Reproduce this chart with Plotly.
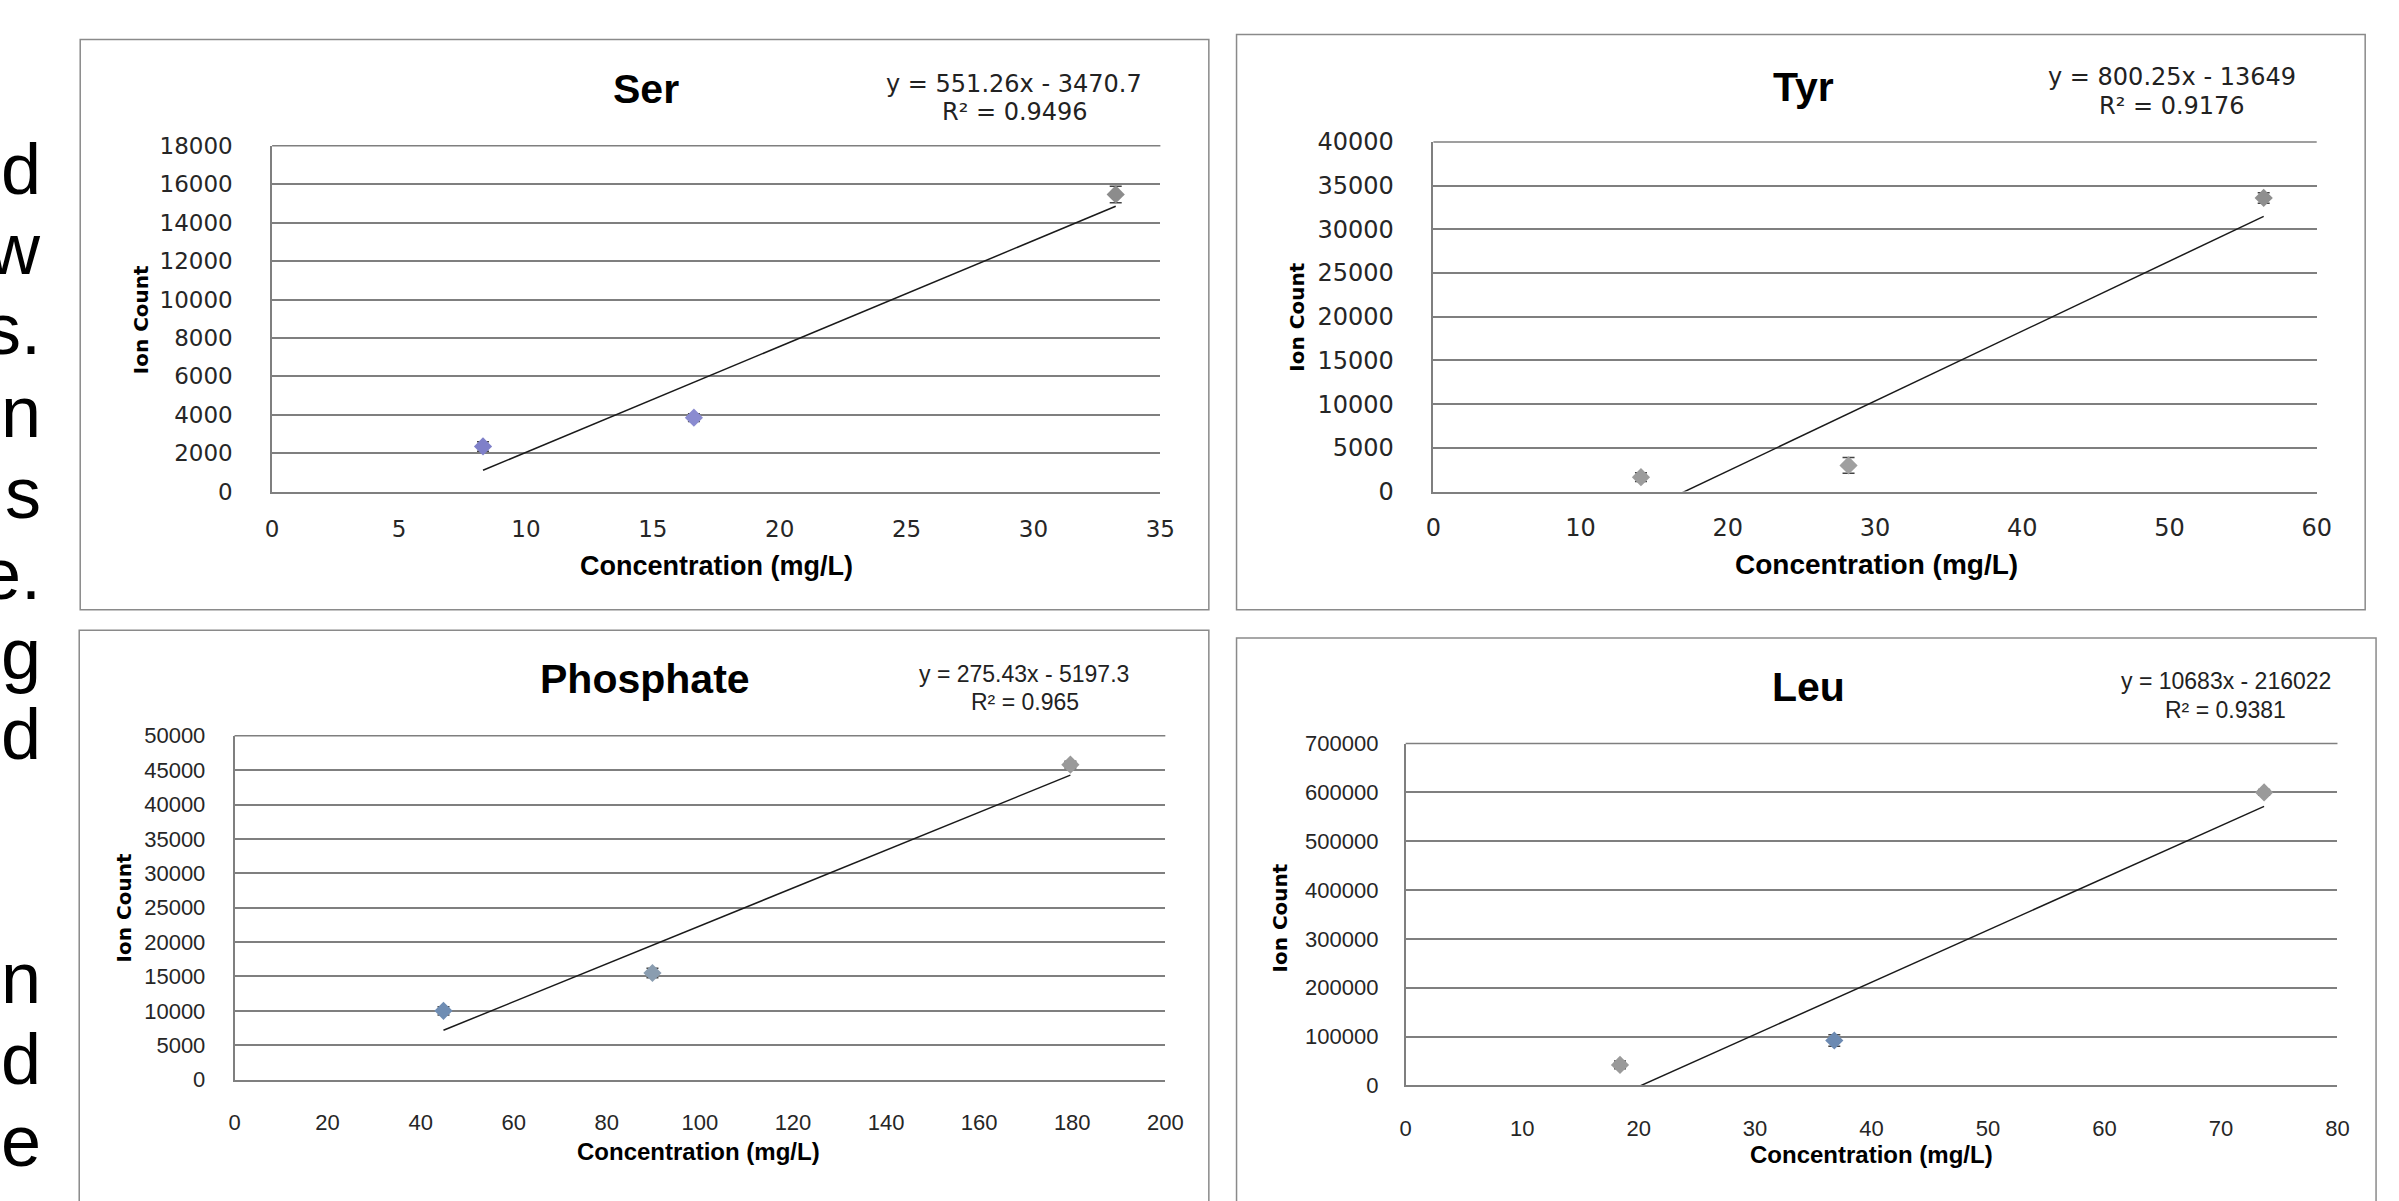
import plotly.graph_objects as go

W, H = 2399, 1201

# ---------------- data ----------------
ser_x = [8.31, 16.62, 33.24]
ser_y = [2350, 3850, 15470]
ser_err = [250, 200, 430]

tyr_x = [14.1, 28.2, 56.4]
tyr_y = [1650, 3000, 33600]
tyr_err = [500, 900, 600]

pho_x = [44.9, 89.8, 179.6]
pho_y = [10000, 15500, 45800]
pho_err = [600, 700, 500]

leu_x = [18.4, 36.8, 73.7]
leu_y = [42000, 92000, 600000]
leu_err = [8000, 12000, 6000]

titles = ["Ser", "Tyr", "Phosphate", "Leu"]
slopes = [551.26, 800.25, 275.43, 10683]
intercepts = [-3470.7, -13649, -5197.3, -216022]
eq_texts = ["y = 551.26x - 3470.7", "y = 800.25x - 13649",
            "y = 275.43x - 5197.3", "y = 10683x - 216022"]
r2_texts = ["0.9496", "0.9176", "0.965", "0.9381"]
x_max = [35, 60, 200, 80]
x_step = [5, 10, 20, 10]
y_max = [18000, 40000, 50000, 700000]
y_step = [2000, 5000, 5000, 100000]
x_title = "Concentration (mg/L)"
y_title = "Ion Count"

# cropped slide text at the left edge
side_text = ["d", "w", "s.", "n", "s", "e.", "g", "d", "n", "d", "e"]
side_base = [190, 272, 354, 438, 521, 604, 686, 768, 1018, 1101, 1185]

series = [(ser_x, ser_y, ser_err), (tyr_x, tyr_y, tyr_err),
          (pho_x, pho_y, pho_err), (leu_x, leu_y, leu_err)]

# ---------------- layout / styling ----------------
panels = [
    dict(box=(73, 26, 1214, 610), plot=(267, 135, 1165, 489), title=(645, 77),
         eq=(1017, 72), r2=(1018, 100), ylab=(134, 313), xlab=(716, 565),
         tickfont="DejaVu Sans", tickfs=23, eqfont="DejaVu Sans", eqfs=24,
         xtfs=27, ystand=33, xstand=16,
         colors=["#7f80c9", "#8a8bd0", "#8c8c8c"]),
    dict(box=(1242, 21, 2383, 610), plot=(1441, 131, 2334, 489), title=(1815, 75),
         eq=(2188, 64), r2=(2188, 94), ylab=(1303, 310), xlab=(1889, 564),
         tickfont="DejaVu Sans", tickfs=24, eqfont="DejaVu Sans", eqfs=24,
         xtfs=28, ystand=33, xstand=14,
         colors=["#9c9c9c", "#a0a0a0", "#8f8f8f"]),
    dict(box=(72, 631, 1214, 1230), plot=(229, 739, 1170, 1091), title=(644, 681),
         eq=(1027, 676), r2=(1028, 704), ylab=(117, 915), xlab=(698, 1165),
         tickfont="Liberation Sans", tickfs=22, eqfont="Liberation Sans", eqfs=23,
         xtfs=24, ystand=23, xstand=22,
         colors=["#6f8db3", "#8a9db0", "#9a9a9a"]),
    dict(box=(1242, 639, 2394, 1230), plot=(1413, 747, 2355, 1097), title=(1820, 689),
         eq=(2242, 683), r2=(2242, 713), ylab=(1286, 926), xlab=(1884, 1168),
         tickfont="Liberation Sans", tickfs=22, eqfont="Liberation Sans", eqfs=23,
         xtfs=24, ystand=21, xstand=22,
         colors=["#9a9a9a", "#6c8ab2", "#9a9a9a"]),
]

GRID = "#7f7f7f"
TICKC = "#262626"


def fx(px):
    return px / W


def fy(py):
    return 1 - py / H


fig = go.Figure()
shapes = []
annotations = []
layout_axes = {}


def ann(text, pos, family, size, angle=0, color="#000000"):
    annotations.append(dict(
        text=text, x=fx(pos[0]), y=fy(pos[1]), xref="paper", yref="paper",
        xanchor="center", yanchor="middle", showarrow=False,
        textangle=angle, font=dict(family=family, size=size, color=color)))


for i, (p, (xs, ys, es)) in enumerate(zip(panels, series)):
    n = i + 1
    xa = "x" if n == 1 else f"x{n}"
    ya = "y" if n == 1 else f"y{n}"
    xkey = "xaxis" if n == 1 else f"xaxis{n}"
    ykey = "yaxis" if n == 1 else f"yaxis{n}"

    # trendline from fit coefficients across the data span
    lx = [min(xs), max(xs)]
    ly = [slopes[i] * v + intercepts[i] for v in lx]
    fig.add_trace(go.Scatter(x=lx, y=ly, mode="lines", xaxis=xa, yaxis=ya,
                             line=dict(color="#1a1a1a", width=1.5),
                             hoverinfo="skip", showlegend=False))
    fig.add_trace(go.Scatter(
        x=xs, y=ys, mode="markers", xaxis=xa, yaxis=ya, showlegend=False,
        marker=dict(symbol="diamond", size=14, color=p["colors"],
                    line=dict(width=0)),
        error_y=dict(type="data", array=es, color="#444444",
                     thickness=1.5, width=6)))

    x0, y0, x1, y1 = p["plot"]
    layout_axes[xkey] = dict(
        domain=[fx(x0), fx(x1)], anchor=ya, range=[0, x_max[i]],
        tick0=0, dtick=x_step[i], showgrid=False, zeroline=False,
        showline=True, linecolor=GRID, linewidth=1.5, ticks="",
        ticklabelstandoff=p["xstand"],
        tickfont=dict(family=p["tickfont"], size=p["tickfs"], color=TICKC))
    layout_axes[ykey] = dict(
        domain=[fy(y1), fy(y0)], anchor=xa, range=[0, y_max[i]],
        tick0=0, dtick=y_step[i], tickformat="d", showgrid=True,
        gridcolor=GRID, gridwidth=1.5, zeroline=False, showline=True,
        linecolor=GRID, linewidth=1.5, ticks="", ticklabelstandoff=p["ystand"],
        tickfont=dict(family=p["tickfont"], size=p["tickfs"], color=TICKC))

    bx0, by0, bx1, by1 = p["box"]
    shapes.append(dict(type="rect", xref="paper", yref="paper",
                       x0=fx(bx0), x1=fx(bx1), y0=fy(by1), y1=fy(by0),
                       line=dict(color="#8a8a8a", width=1.5),
                       fillcolor="rgba(0,0,0,0)", layer="below"))
    # top gridline (range edge)
    shapes.append(dict(type="line", xref="paper", yref="paper",
                       x0=fx(x0), x1=fx(x1), y0=fy(y0), y1=fy(y0),
                       line=dict(color=GRID, width=1.5)))

    ann(f"<b>{titles[i]}</b>", p["title"], "Liberation Sans", 41)
    ann(eq_texts[i], p["eq"], p["eqfont"], p["eqfs"], color="#222222")
    ann(f"R² = {r2_texts[i]}", p["r2"], p["eqfont"], p["eqfs"], color="#222222")
    ann(f"<b>{y_title}</b>", p["ylab"], "DejaVu Sans", 20, angle=-90)
    ann(f"<b>{x_title}</b>", p["xlab"], "Liberation Sans", p["xtfs"])

for t, b in zip(side_text, side_base):
    annotations.append(dict(
        text=t, x=fx(35), y=fy(b + 12), xref="paper", yref="paper",
        xanchor="right", yanchor="bottom", showarrow=False,
        font=dict(family="Liberation Sans", size=72, color="#000000")))

fig.update_layout(
    width=W, height=H, margin=dict(l=0, r=0, t=0, b=0),
    paper_bgcolor="white", plot_bgcolor="white", showlegend=False,
    shapes=shapes, annotations=annotations, **layout_axes)

fig.write_html("out.html", config={"displayModeBar": False},
               post_script="document.body.style.margin='0';"
                           "document.body.style.overflow='hidden';")
